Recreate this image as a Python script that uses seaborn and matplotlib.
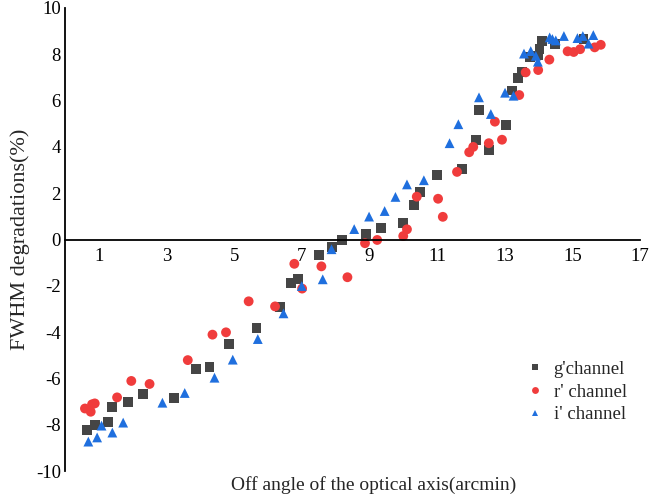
import matplotlib
matplotlib.use("Agg")
import matplotlib.pyplot as plt
import seaborn as sns
import pandas as pd

# ---- data ----
g_x = [0.65, 0.88, 1.26, 1.38, 1.86, 2.30, 3.22, 3.88, 4.27, 4.84, 5.66, 6.36, 6.67, 6.89,
       7.52, 7.90, 8.18, 8.89, 9.34, 9.99, 10.33, 10.49, 10.99, 11.73, 12.15, 12.24, 12.54,
       13.04, 13.21, 13.40, 13.51, 13.75, 13.98, 14.03, 14.10, 14.48, 15.33]
g_y = [-8.23, -8.00, -7.88, -7.24, -7.02, -6.67, -6.85, -5.58, -5.49, -4.51, -3.82, -2.90, -1.88, -1.71,
       -0.66, -0.31, -0.02, 0.22, 0.48, 0.73, 1.49, 2.06, 2.79, 3.05, 4.30, 5.61, 3.88,
       4.96, 6.44, 6.98, 7.22, 7.90, 7.95, 8.22, 8.56, 8.45, 8.67]

r_x = [0.59, 0.76, 0.80, 0.88, 1.54, 1.96, 2.50, 3.63, 4.36, 4.76, 5.43, 6.21, 6.78, 7.01,
       7.58, 8.35, 8.87, 9.23, 10.00, 10.11, 10.40, 11.03, 11.17, 11.59, 11.95, 12.07, 12.53,
       12.71, 12.92, 13.43, 13.62, 13.99, 14.32, 14.86, 15.04, 15.23, 15.66, 15.84]
r_y = [-7.30, -7.44, -7.12, -7.08, -6.82, -6.11, -6.24, -5.21, -4.11, -4.01, -2.67, -2.89, -1.05, -2.12,
       -1.16, -1.63, -0.16, -0.02, 0.15, 0.44, 1.85, 1.76, 0.98, 2.92, 3.77, 4.00, 4.16,
       5.09, 4.31, 6.24, 7.22, 7.32, 7.77, 8.13, 8.10, 8.22, 8.30, 8.41]

i_x = [0.69, 0.95, 1.08, 1.40, 1.72, 2.88, 3.54, 4.42, 4.96, 5.70, 6.46, 7.00, 7.62, 7.88,
       8.55, 8.99, 9.45, 9.77, 10.11, 10.61, 11.37, 11.63, 12.24, 12.59, 13.01, 13.26, 13.57,
       13.77, 13.92, 13.98, 14.33, 14.41, 14.51, 14.75, 15.15, 15.31, 15.48, 15.62]
i_y = [-8.73, -8.55, -8.04, -8.34, -7.91, -7.05, -6.63, -5.97, -5.19, -4.30, -3.19, -2.01, -1.72, -0.42,
       0.45, 0.99, 1.23, 1.84, 2.38, 2.56, 4.16, 4.98, 6.14, 5.42, 6.34, 6.21, 8.03,
       8.14, 7.93, 7.68, 8.73, 8.66, 8.60, 8.79, 8.70, 8.79, 8.46, 8.83]

channels = ["g'channel", "r' channel", "i' channel"]
x_ticks = [1, 3, 5, 7, 9, 11, 13, 15, 17]
y_ticks = [-10, -8, -6, -4, -2, 0, 2, 4, 6, 8, 10]

df = pd.concat([
    pd.DataFrame({"x": g_x, "y": g_y, "channel": channels[0]}),
    pd.DataFrame({"x": r_x, "y": r_y, "channel": channels[1]}),
    pd.DataFrame({"x": i_x, "y": i_y, "channel": channels[2]}),
], ignore_index=True)

sns.set_style("white")
plt.rcParams["font.family"] = ["Liberation Serif", "DejaVu Serif"]
plt.rcParams["axes.unicode_minus"] = False

fig = plt.figure(figsize=(6.49, 5.01), dpi=100)
ax = fig.add_axes([65 / 649, 1 - 471 / 501, 575 / 649, 463 / 501])

palette = {channels[0]: "#454545", channels[1]: "#F03C3C", channels[2]: "#1F6FDE"}
markers = {channels[0]: "s", channels[1]: "o", channels[2]: "^"}

sns.scatterplot(data=df, x="x", y="y", hue="channel", style="channel",
                palette=palette, markers=markers, hue_order=channels, style_order=channels,
                s=50, linewidth=0, ax=ax)

ax.set_xlim(0, 17)
ax.set_ylim(-10, 10)
ax.set_xticks(x_ticks)
ax.set_yticks(y_ticks)

for side in ["top", "right"]:
    ax.spines[side].set_visible(False)
ax.spines["bottom"].set_position(("data", 0))
for side in ["left", "bottom"]:
    ax.spines[side].set_color("black")
    ax.spines[side].set_linewidth(1.3)

ax.tick_params(axis="both", direction="in", length=4, width=1.2, colors="black", labelsize=13.5)
ax.tick_params(axis="x", pad=6)
ax.tick_params(axis="y", pad=3)

ax.set_xlabel("Off angle of the optical axis(arcmin)", fontsize=14)
ax.xaxis.set_label_coords(0.536, -0.030)
ax.xaxis.label.set_va("center")
ax.set_ylabel("FWHM degradations(%)", fontsize=16)
ax.yaxis.set_label_coords(-0.078, 0.5)
ax.yaxis.label.set_va("center")

handles, labels = ax.get_legend_handles_labels()
ax.legend(handles=handles, labels=labels, frameon=False, fontsize=13.5,
          loc="center left", bbox_to_anchor=(516 / 649, 1 - 392 / 501),
          bbox_transform=fig.transFigure, handlelength=1.0, handletextpad=0.5,
          labelspacing=0.3, borderpad=0, markerscale=0.7)

fig.savefig("out.png", dpi=100)
